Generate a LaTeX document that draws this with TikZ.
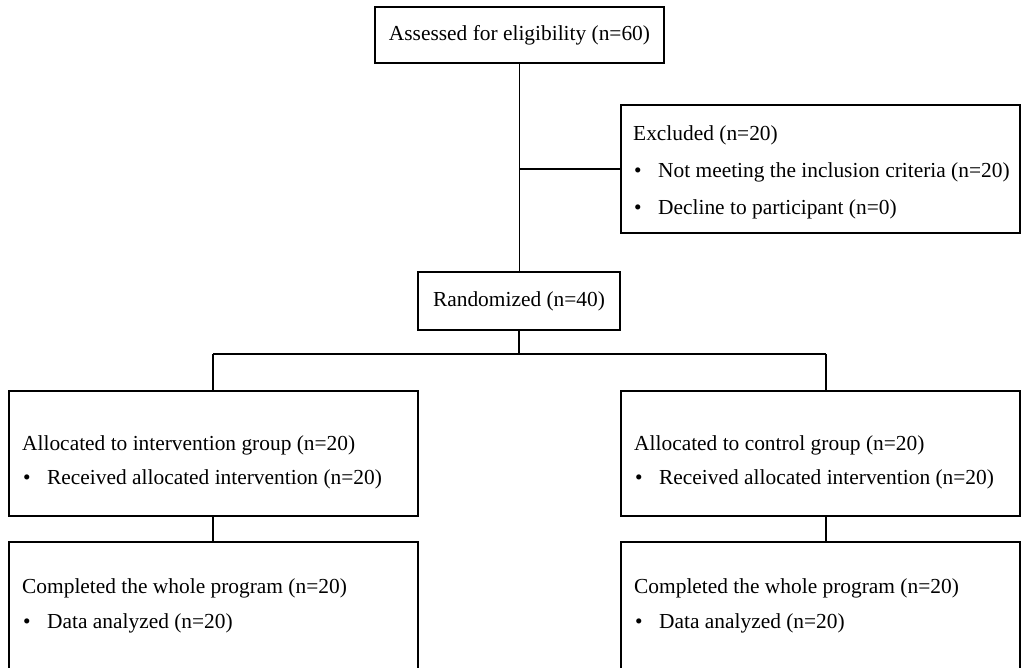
\documentclass[tikz,border=0pt]{standalone}
\usepackage{fontspec}
\setmainfont{Liberation Serif}
\newcommand{\blt}{\hspace*{1pt}\textbullet\hspace{16.5pt}}
\begin{document}
\begin{tikzpicture}[x=1pt,y=-1pt,
  box/.style={draw, line width=1.2pt, inner sep=0pt, outer sep=0pt, font=\fontsize{21.4}{25}\selectfont},
  txt/.style={anchor=west, align=left, inner sep=0pt, font=\fontsize{21.4}{25}\selectfont},
  conn/.style={draw, line width=1.2pt}]
\useasboundingbox (0,0) rectangle (1021,668);
\clip (0,0) rectangle (1021,668);
% boxes
\node[box, minimum width=289, minimum height=56] (top) at (519.5,35) {Assessed for eligibility (n=60)};
\node[box, minimum width=399, minimum height=128] (excl) at (820.5,169) {};
\node[txt] (exclT) at (633,172) {Excluded (n=20)\\[12pt]\blt Not meeting the inclusion criteria (n=20)\\[12pt]\blt Decline to participant (n=0)};
\node[box, minimum width=202, minimum height=58] (rand) at (519,301) {Randomized (n=40)};
\node[box, minimum width=409, minimum height=125] (midL) at (213.5,453.5) {};
\node[txt] (midLT) at (22,462) {Allocated to intervention group (n=20)\\[9pt]\blt Received allocated intervention (n=20)};
\node[box, minimum width=399, minimum height=125] (midR) at (820.5,453.5) {};
\node[txt] (midRT) at (634,462) {Allocated to control group (n=20)\\[9pt]\blt Received allocated intervention (n=20)};
\node[box, minimum width=409, minimum height=160] (botL) at (213.5,622) {};
\node[txt] (botLT) at (22,606) {Completed the whole program (n=20)\\[10pt]\blt Data analyzed (n=20)};
\node[box, minimum width=399, minimum height=160] (botR) at (820.5,622) {};
\node[txt] (botRT) at (634,606) {Completed the whole program (n=20)\\[10pt]\blt Data analyzed (n=20)};
% connectors
\coordinate (bC) at (519,354);
\coordinate (bL) at (213,354);
\coordinate (bR) at (826,354);
\path[conn] (top.south) -- (top.south |- rand.north);
\path[conn] (top.south |- excl.west) -- (excl.west);
\path[conn] (rand.south) -- (bC);
\path[conn] (bL) -- (bR);
\path[conn] (bL) -- (bL |- midL.north);
\path[conn] (bR) -- (bR |- midR.north);
\path[conn] (bL |- midL.south) -- (bL |- botL.north);
\path[conn] (bR |- midR.south) -- (bR |- botR.north);
\end{tikzpicture}
\end{document}
